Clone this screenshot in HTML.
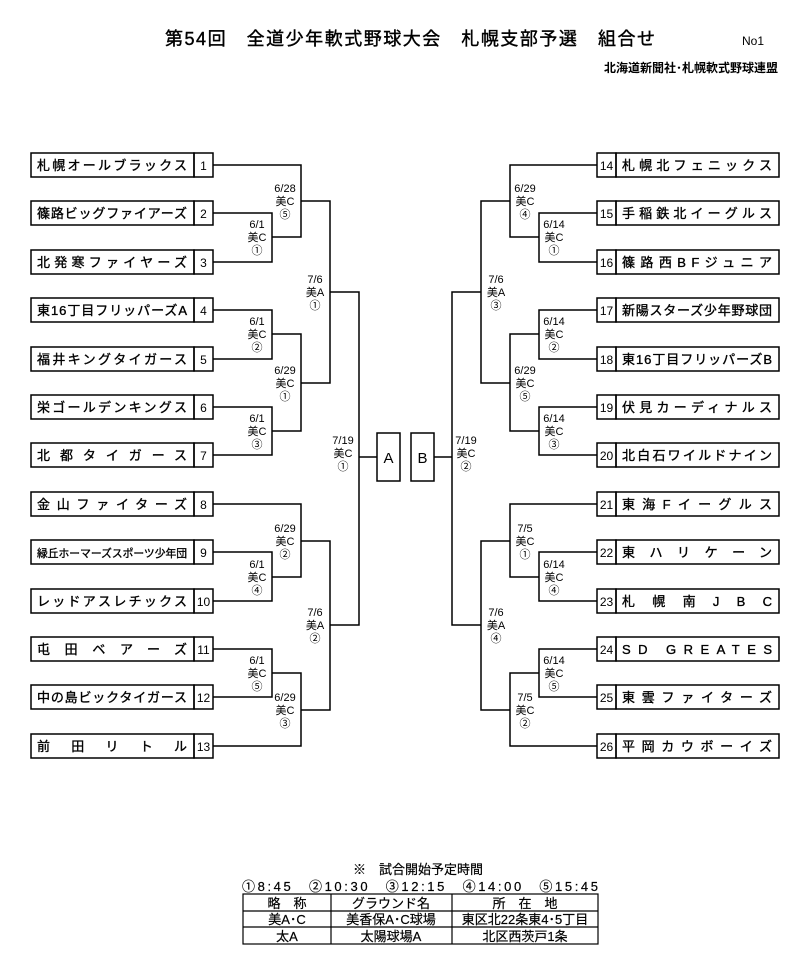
<!DOCTYPE html>
<html><head><meta charset="utf-8"><style>
html,body{margin:0;padding:0;background:#fff;}
svg{display:block;font-family:"Liberation Sans","Noto Sans CJK JP",sans-serif;}
</style></head><body>
<svg width="800" height="971" viewBox="0 0 800 971" xmlns="http://www.w3.org/2000/svg">
<text x="410" y="45" font-size="18" text-anchor="middle" textLength="490" lengthAdjust="spacing" stroke="#000" stroke-width="0.4">第54回　全道少年軟式野球大会　札幌支部予選　組合せ</text>
<text x="742" y="45" font-size="12">No1</text>
<text x="778" y="72" font-size="12" font-weight="bold" text-anchor="end">北海道新聞社･札幌軟式野球連盟</text>

<g fill="none" stroke="#000" stroke-width="1.5">
<g id="L">
<rect x="31" y="153" width="163" height="24"/><rect x="194" y="153" width="19" height="24"/>
<rect x="31" y="201" width="163" height="24"/><rect x="194" y="201" width="19" height="24"/>
<rect x="31" y="250" width="163" height="24"/><rect x="194" y="250" width="19" height="24"/>
<rect x="31" y="298" width="163" height="24"/><rect x="194" y="298" width="19" height="24"/>
<rect x="31" y="347" width="163" height="24"/><rect x="194" y="347" width="19" height="24"/>
<rect x="31" y="395" width="163" height="24"/><rect x="194" y="395" width="19" height="24"/>
<rect x="31" y="443" width="163" height="24"/><rect x="194" y="443" width="19" height="24"/>
<rect x="31" y="492" width="163" height="24"/><rect x="194" y="492" width="19" height="24"/>
<rect x="31" y="540" width="163" height="24"/><rect x="194" y="540" width="19" height="24"/>
<rect x="31" y="589" width="163" height="24"/><rect x="194" y="589" width="19" height="24"/>
<rect x="31" y="637" width="163" height="24"/><rect x="194" y="637" width="19" height="24"/>
<rect x="31" y="685" width="163" height="24"/><rect x="194" y="685" width="19" height="24"/>
<rect x="31" y="734" width="163" height="24"/><rect x="194" y="734" width="19" height="24"/>
</g>
<g transform="translate(810,0) scale(-1,1)"><use href="#L"/></g>
<polyline points="213,165 301,165 301,237 272,237"/>
<polyline points="213,213 272,213 272,262 213,262"/>
<polyline points="301,201 330,201 330,383 301,383"/>
<polyline points="213,310 272,310 272,359 213,359"/>
<polyline points="272,334 301,334 301,431 272,431"/>
<polyline points="213,407 272,407 272,455 213,455"/>
<polyline points="213,504 301,504 301,577 272,577"/>
<polyline points="213,552 272,552 272,601 213,601"/>
<polyline points="213,649 272,649 272,697 213,697"/>
<polyline points="272,673 301,673 301,746 213,746"/>
<polyline points="301,541 330,541 330,710 301,710"/>
<polyline points="330,292 359,292 359,625 330,625"/>
<line x1="359" y1="457" x2="377" y2="457"/>
<rect x="377" y="433" width="23" height="48"/>
<rect x="411" y="433" width="23" height="48"/>
<line x1="434" y1="457" x2="452" y2="457"/>
<polyline points="597,165 510,165 510,237 539,237"/>
<polyline points="597,213 539,213 539,262 597,262"/>
<polyline points="510,201 481,201 481,383 510,383"/>
<polyline points="597,310 539,310 539,359 597,359"/>
<polyline points="539,334 510,334 510,431 539,431"/>
<polyline points="597,407 539,407 539,455 597,455"/>
<polyline points="597,504 510,504 510,577 539,577"/>
<polyline points="597,552 539,552 539,601 597,601"/>
<polyline points="597,649 539,649 539,697 597,697"/>
<polyline points="539,673 510,673 510,746 597,746"/>
<polyline points="510,541 481,541 481,710 510,710"/>
<polyline points="481,292 452,292 452,625 481,625"/>
</g>
<text x="388.5" y="463" font-size="15" text-anchor="middle">A</text>
<text x="422.5" y="463" font-size="15" text-anchor="middle">B</text>

<g font-size="13" stroke="#000" stroke-width="0.35">
<text x="37" y="170" textLength="150" lengthAdjust="spacing">札幌オールブラックス</text>
<text x="37" y="218" textLength="150" lengthAdjust="spacing">篠路ビッグファイアーズ</text>
<text x="37" y="267" textLength="150" lengthAdjust="spacing">北発寒ファイヤーズ</text>
<text x="37" y="315" textLength="150" lengthAdjust="spacing">東16丁目フリッパーズA</text>
<text x="37" y="364" textLength="150" lengthAdjust="spacing">福井キングタイガース</text>
<text x="37" y="412" textLength="150" lengthAdjust="spacing">栄ゴールデンキングス</text>
<text x="37" y="460" textLength="150" lengthAdjust="spacing">北都タイガース</text>
<text x="37" y="509" textLength="150" lengthAdjust="spacing">金山ファイターズ</text>
<text x="37" y="557" font-size="11" textLength="150" lengthAdjust="spacingAndGlyphs">緑丘ホーマーズスポーツ少年団</text>
<text x="37" y="606" textLength="150" lengthAdjust="spacing">レッドアスレチックス</text>
<text x="37" y="654" textLength="150" lengthAdjust="spacing">屯田ベアーズ</text>
<text x="37" y="702" textLength="150" lengthAdjust="spacing">中の島ビックタイガース</text>
<text x="37" y="751" textLength="150" lengthAdjust="spacing">前田リトル</text>
<text x="622" y="170" textLength="150" lengthAdjust="spacing">札幌北フェニックス</text>
<text x="622" y="218" textLength="150" lengthAdjust="spacing">手稲鉄北イーグルス</text>
<text x="622" y="267" textLength="150" lengthAdjust="spacing">篠路西BFジュニア</text>
<text x="622" y="315" textLength="150" lengthAdjust="spacing">新陽スターズ少年野球団</text>
<text x="622" y="364" textLength="150" lengthAdjust="spacing">東16丁目フリッパーズB</text>
<text x="622" y="412" textLength="150" lengthAdjust="spacing">伏見カーディナルス</text>
<text x="622" y="460" textLength="150" lengthAdjust="spacing">北白石ワイルドナイン</text>
<text x="622" y="509" textLength="150" lengthAdjust="spacing">東海Fイーグルス</text>
<text x="622" y="557" textLength="150" lengthAdjust="spacing">東ハリケーン</text>
<text x="622" y="606" textLength="150" lengthAdjust="spacing">札幌南JBC</text>
<text x="622" y="654" textLength="150" lengthAdjust="spacing">SD GREATES</text>
<text x="622" y="702" textLength="150" lengthAdjust="spacing">東雲ファイターズ</text>
<text x="622" y="751" textLength="150" lengthAdjust="spacing">平岡カウボーイズ</text>
</g>
<g font-size="12" text-anchor="middle">
<text x="203.5" y="170">1</text><text x="203.5" y="218">2</text><text x="203.5" y="267">3</text>
<text x="203.5" y="315">4</text><text x="203.5" y="364">5</text><text x="203.5" y="412">6</text>
<text x="203.5" y="460">7</text><text x="203.5" y="509">8</text><text x="203.5" y="557">9</text>
<text x="203.5" y="606">10</text><text x="203.5" y="654">11</text><text x="203.5" y="702">12</text>
<text x="203.5" y="751">13</text>
<text x="606.5" y="170">14</text><text x="606.5" y="218">15</text><text x="606.5" y="267">16</text>
<text x="606.5" y="315">17</text><text x="606.5" y="364">18</text><text x="606.5" y="412">19</text>
<text x="606.5" y="460">20</text><text x="606.5" y="509">21</text><text x="606.5" y="557">22</text>
<text x="606.5" y="606">23</text><text x="606.5" y="654">24</text><text x="606.5" y="702">25</text>
<text x="606.5" y="751">26</text>
</g>
<g font-size="11" text-anchor="middle">
<text x="285" y="192">6/28</text><text x="285" y="205">美C</text><text x="285" y="218">⑤</text>
<text x="257" y="228">6/1</text><text x="257" y="241">美C</text><text x="257" y="254">①</text>
<text x="315" y="283">7/6</text><text x="315" y="296">美A</text><text x="315" y="309">①</text>
<text x="257" y="325">6/1</text><text x="257" y="338">美C</text><text x="257" y="351">②</text>
<text x="285" y="374">6/29</text><text x="285" y="387">美C</text><text x="285" y="400">①</text>
<text x="257" y="422">6/1</text><text x="257" y="435">美C</text><text x="257" y="448">③</text>
<text x="343" y="444">7/19</text><text x="343" y="457">美C</text><text x="343" y="470">①</text>
<text x="285" y="532">6/29</text><text x="285" y="545">美C</text><text x="285" y="558">②</text>
<text x="257" y="568">6/1</text><text x="257" y="581">美C</text><text x="257" y="594">④</text>
<text x="315" y="616">7/6</text><text x="315" y="629">美A</text><text x="315" y="642">②</text>
<text x="257" y="664">6/1</text><text x="257" y="677">美C</text><text x="257" y="690">⑤</text>
<text x="285" y="701">6/29</text><text x="285" y="714">美C</text><text x="285" y="727">③</text>

<text x="525" y="192">6/29</text><text x="525" y="205">美C</text><text x="525" y="218">④</text>
<text x="554" y="228">6/14</text><text x="554" y="241">美C</text><text x="554" y="254">①</text>
<text x="496" y="283">7/6</text><text x="496" y="296">美A</text><text x="496" y="309">③</text>
<text x="554" y="325">6/14</text><text x="554" y="338">美C</text><text x="554" y="351">②</text>
<text x="525" y="374">6/29</text><text x="525" y="387">美C</text><text x="525" y="400">⑤</text>
<text x="554" y="422">6/14</text><text x="554" y="435">美C</text><text x="554" y="448">③</text>
<text x="466" y="444">7/19</text><text x="466" y="457">美C</text><text x="466" y="470">②</text>
<text x="525" y="532">7/5</text><text x="525" y="545">美C</text><text x="525" y="558">①</text>
<text x="554" y="568">6/14</text><text x="554" y="581">美C</text><text x="554" y="594">④</text>
<text x="496" y="616">7/6</text><text x="496" y="629">美A</text><text x="496" y="642">④</text>
<text x="554" y="664">6/14</text><text x="554" y="677">美C</text><text x="554" y="690">⑤</text>
<text x="525" y="701">7/5</text><text x="525" y="714">美C</text><text x="525" y="727">②</text>
</g>

<g font-size="13" text-anchor="middle" stroke="#000" stroke-width="0.2">
<text x="418" y="874">※　試合開始予定時間</text>
<text x="420" y="891" textLength="356" lengthAdjust="spacing">①8:45　②10:30　③12:15　④14:00　⑤15:45</text>
</g>
<g fill="none" stroke="#000" stroke-width="1.2">
<rect x="243" y="894" width="355" height="50"/>
<line x1="243" y1="911" x2="598" y2="911"/>
<line x1="243" y1="927" x2="598" y2="927"/>
<line x1="331" y1="894" x2="331" y2="944"/>
<line x1="452" y1="894" x2="452" y2="944"/>
</g>
<g font-size="13" text-anchor="middle" stroke="#000" stroke-width="0.2">
<text x="287" y="908">略　称</text><text x="391" y="908">グラウンド名</text><text x="525" y="908">所　在　地</text>
<text x="287" y="924">美A･C</text><text x="391" y="924">美香保A･C球場</text><text x="525" y="924">東区北22条東4･5丁目</text>
<text x="287" y="941">太A</text><text x="391" y="941">太陽球場A</text><text x="525" y="941">北区西茨戸1条</text>
</g>
</svg>
</body></html>
